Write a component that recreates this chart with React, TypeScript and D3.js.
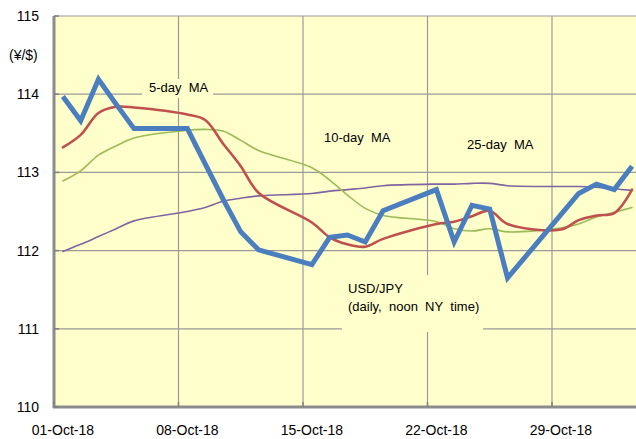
import React from "react";
import * as d3 from "d3";

const dates = [
  "2018-10-01", "2018-10-02", "2018-10-03", "2018-10-04", "2018-10-05",
  "2018-10-08", "2018-10-09", "2018-10-10", "2018-10-11", "2018-10-12",
  "2018-10-15", "2018-10-16", "2018-10-17", "2018-10-18", "2018-10-19",
  "2018-10-22", "2018-10-23", "2018-10-24", "2018-10-25", "2018-10-26",
  "2018-10-29", "2018-10-30", "2018-10-31", "2018-11-01", "2018-11-02",
];

const usdJpy = [
  113.97, 113.66, 114.19, 113.87, 113.56,
  113.56, 113.11, 112.66, 112.24, 112.01,
  111.82, 112.17, 112.2, 112.11, 112.51,
  112.78, 112.11, 112.58, 112.53, 111.65,
  112.46, 112.73, 112.85, 112.78, 113.08,
];

const ma5 = [
  113.32, 113.48, 113.76, 113.84, 113.83,
  113.74, 113.67, 113.37, 113.08, 112.74,
  112.36, 112.17, 112.08, 112.05, 112.15,
  112.34, 112.37, 112.44, 112.51, 112.34,
  112.27, 112.39, 112.45, 112.48, 112.78,
];

const ma10 = [
  112.89, 113.02, 113.22, 113.34, 113.44,
  113.54, 113.55, 113.53, 113.41, 113.28,
  113.06, 112.9, 112.71, 112.54, 112.45,
  112.37, 112.28, 112.25, 112.28, 112.24,
  112.29, 112.34, 112.43, 112.49, 112.55,
];

const ma25 = [
  111.99, 112.08, 112.18, 112.28, 112.38,
  112.5, 112.55, 112.63, 112.67, 112.7,
  112.73, 112.76, 112.78, 112.8, 112.83,
  112.85, 112.85, 112.86, 112.86, 112.83,
  112.82, 112.82, 112.81, 112.79, 112.77,
];

const yTicks = [110, 111, 112, 113, 114, 115];
const xTickDates = ["2018-10-01", "2018-10-08", "2018-10-15", "2018-10-22", "2018-10-29"];
const xTickLabels = ["01-Oct-18", "08-Oct-18", "15-Oct-18", "22-Oct-18", "29-Oct-18"];

const W = 636;
const H = 439;
const left = 54;
const top = 16;
const bottom = 407;
const right = 636;
const FONT = "'Liberation Sans', Arial, sans-serif";
const BG = "#FFFFCC";
const GRID = "#9a9a9a";

export default function App() {
  const parse = d3.timeParse("%Y-%m-%d");
  const start = parse("2018-10-01") as Date;
  const dayIdx = (s: string) => d3.timeDay.count(start, parse(s) as Date);

  const x = d3.scaleLinear().domain([0, 33]).range([left, left + 33 * ((552 - 54) / 28)]);
  const y = d3.scaleLinear().domain([110, 115]).range([bottom, top]);

  const xs = dates.map((d) => x(dayIdx(d) + 0.5));

  const straight = d3.line<number>().x((_, i) => xs[i]).y((v) => y(v));
  const smooth = d3
    .line<number>()
    .x((_, i) => xs[i])
    .y((v) => y(v))
    .curve(d3.curveCatmullRom.alpha(0.5));

  const boxes = [
    { x: 142, y: 79, w: 71, h: 19 },
    { x: 318, y: 127, w: 73, h: 20 },
    { x: 461, y: 134, w: 74, h: 20 },
    { x: 342, y: 275, w: 141, h: 57 },
  ];

  return (
    <div style={{ position: "absolute", left: 0, top: 0 }}>
      <svg width={W} height={H} style={{ display: "block", background: "#fff" }} fontFamily={FONT}>
        <defs>
          <clipPath id="plotclip">
            <rect x={left} y={top - 5} width={right - left} height={bottom - top + 10} />
          </clipPath>
        </defs>
        <rect x={left} y={top} width={right - left} height={bottom - top} fill={BG} />
        {/* horizontal gridlines */}
        {yTicks.filter((t) => t > 110).map((t) => (
          <line key={"h" + t} x1={left} x2={right} y1={y(t)} y2={y(t)} stroke={GRID} strokeWidth={1.2} />
        ))}
        {/* vertical gridlines */}
        {xTickDates.slice(1).map((d) => (
          <line key={"v" + d} x1={x(dayIdx(d))} x2={x(dayIdx(d))} y1={top} y2={bottom} stroke={GRID} strokeWidth={1.2} />
        ))}
        {/* label boxes covering gridlines */}
        {boxes.map((b, i) => (
          <rect key={"b" + i} x={b.x} y={b.y} width={b.w} height={b.h} fill={BG} />
        ))}
        {/* axes */}
        <line x1={left} x2={left} y1={top} y2={bottom + 1} stroke="#8c8c8c" strokeWidth={3} />
        <line x1={left - 1} x2={right} y1={bottom} y2={bottom} stroke="#8c8c8c" strokeWidth={3} />
        {yTicks.map((t) => (
          <line key={"yt" + t} x1={left} x2={left + 5} y1={y(t)} y2={y(t)} stroke="#808080" strokeWidth={1.5} />
        ))}
        {xTickDates.map((d) => (
          <line key={"xt" + d} x1={x(dayIdx(d))} x2={x(dayIdx(d))} y1={bottom - 5} y2={bottom} stroke="#808080" strokeWidth={1.5} />
        ))}
        {/* data lines */}
        <g clipPath="url(#plotclip)" fill="none" strokeLinejoin="round" strokeLinecap="round">
          <path d={smooth(ma25) || ""} stroke="#8064A2" strokeWidth={1.6} />
          <path d={smooth(ma10) || ""} stroke="#9BBB59" strokeWidth={1.6} />
          <path d={smooth(ma5) || ""} stroke="#C0504D" strokeWidth={2.6} />
          <path d={straight(usdJpy) || ""} stroke="#4A7EBE" strokeWidth={5} strokeLinejoin="miter" strokeLinecap="butt" />
        </g>
        {/* y tick labels */}
        {yTicks.map((t) => (
          <text key={"yl" + t} x={39} y={y(t) + 5} textAnchor="end" fontSize={14} fill="#000">
            {t}
          </text>
        ))}
        <text x={9} y={60} fontSize={14} fill="#000">(¥/$)</text>
        {/* x tick labels */}
        {xTickDates.map((d, i) => (
          <text key={"xl" + d} x={x(dayIdx(d) + 0.5)} y={435} textAnchor="middle" fontSize={14} fill="#000">
            {xTickLabels[i]}
          </text>
        ))}
        {/* annotations */}
        <text x={149} y={92} fontSize={13} fill="#000">{"5-day\u00A0\u00A0MA"}</text>
        <text x={324} y={142} fontSize={13} fill="#000">{"10-day\u00A0\u00A0MA"}</text>
        <text x={467} y={149} fontSize={13} fill="#000">{"25-day\u00A0\u00A0MA"}</text>
        <text x={348} y={293} fontSize={13} fill="#000">USD/JPY</text>
        <text x={348} y={311} fontSize={13} fill="#000">{"(daily,\u00A0\u00A0noon\u00A0\u00A0NY\u00A0\u00A0time)"}</text>
      </svg>
    </div>
  );
}
